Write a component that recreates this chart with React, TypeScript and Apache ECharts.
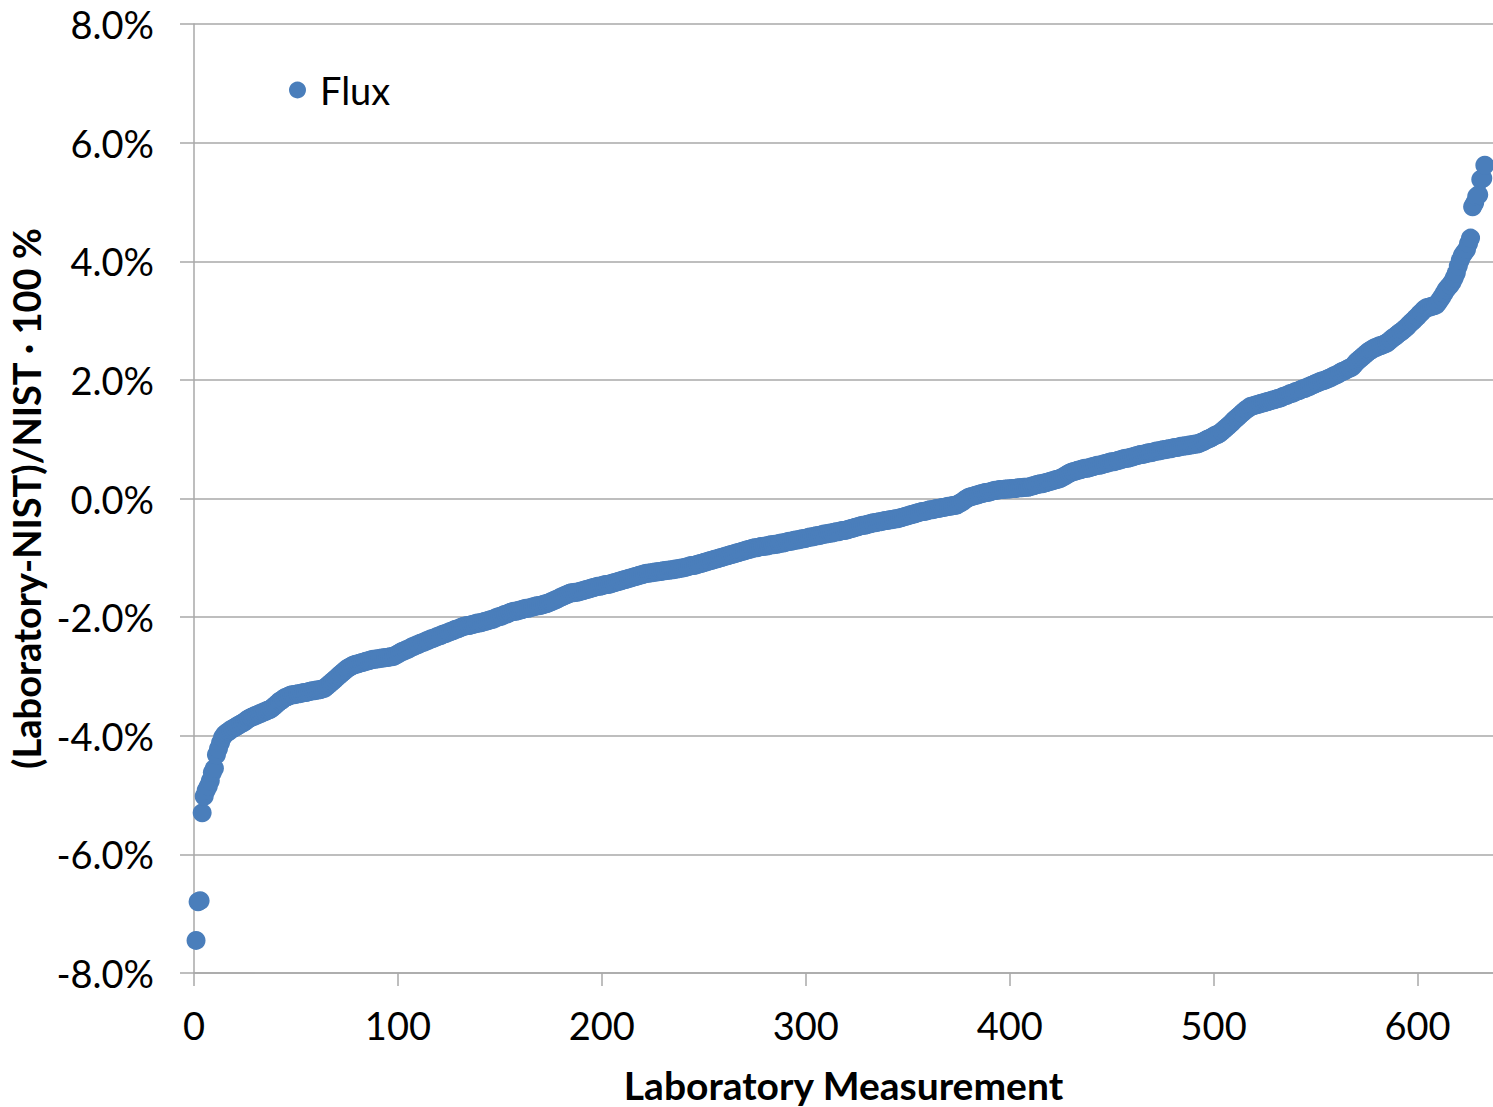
import React, { useEffect, useRef } from "react";
import * as echarts from "echarts";

// Sorted relative differences (%) for each laboratory measurement, index 1..633
const seg1 = [-7.45, -6.80, -6.78, -5.30, -5.02, -4.92, -4.85, -4.76, -4.62, -4.55, -4.32, -4.22, -4.12, -4.03, -3.98];
const seg2 = [-3.95, -3.93, -3.90, -3.88, -3.86, -3.84, -3.82, -3.80, -3.78, -3.76, -3.73,
  -3.71, -3.69, -3.68, -3.66, -3.65, -3.63, -3.62, -3.60,
  -3.59, -3.57, -3.56, -3.54, -3.51, -3.48, -3.45, -3.42,
  -3.40, -3.37, -3.35, -3.34, -3.32,
  -3.31, -3.31, -3.30, -3.29, -3.29, -3.28, -3.27, -3.27, -3.26, -3.25, -3.24,
  -3.24, -3.23, -3.23, -3.22, -3.21, -3.20];
const seg3 = [-3.17, -3.14, -3.11, -3.08, -3.05, -3.02,
  -2.99, -2.96, -2.93, -2.90, -2.87, -2.85, -2.83, -2.81,
  -2.80, -2.79, -2.78, -2.77, -2.76, -2.75, -2.74, -2.73, -2.72, -2.71,
  -2.71, -2.70, -2.70, -2.69, -2.69, -2.68, -2.68, -2.67, -2.67, -2.66,
  -2.64, -2.62, -2.60, -2.58, -2.57, -2.55, -2.54, -2.52, -2.50,
  -2.49, -2.47, -2.46, -2.44, -2.43, -2.42, -2.40, -2.39, -2.37, -2.36];
const seg4 = [-2.35, -2.33, -2.32, -2.31, -2.29, -2.28, -2.27, -2.25, -2.24, -2.23, -2.21, -2.20, -2.19, -2.17, -2.16,
  -2.15, -2.14, -2.14, -2.13, -2.12, -2.11, -2.10, -2.10, -2.09, -2.08, -2.07, -2.06, -2.05,
  -2.04, -2.03, -2.01, -2.00, -1.99, -1.98, -1.96, -1.95, -1.94, -1.92, -1.91,
  -1.90, -1.90, -1.89, -1.88, -1.87, -1.86, -1.85, -1.85, -1.84, -1.83, -1.82, -1.81, -1.81, -1.80, -1.79, -1.78, -1.77,
  -1.76, -1.74, -1.73, -1.71, -1.70, -1.68, -1.66, -1.65, -1.63, -1.62, -1.60,
  -1.59, -1.59, -1.58, -1.58, -1.57,
  -1.56, -1.55, -1.54, -1.53, -1.52, -1.51, -1.50, -1.49,
  -1.48, -1.48, -1.47, -1.46, -1.45, -1.45, -1.44, -1.43];
const seg5 = [-1.42, -1.41, -1.40, -1.39, -1.38, -1.37, -1.36, -1.35, -1.34, -1.33, -1.32, -1.31, -1.30, -1.29, -1.28, -1.27, -1.26,
  -1.26, -1.25, -1.25, -1.24, -1.24, -1.23, -1.23, -1.22, -1.22, -1.21, -1.21, -1.20, -1.20, -1.19, -1.19, -1.18,
  -1.17, -1.17, -1.16, -1.15, -1.14, -1.13, -1.13, -1.12, -1.11, -1.10, -1.09, -1.08, -1.07,
  -1.06, -1.05, -1.04, -1.03, -1.02, -1.01, -1.00, -0.99, -0.98, -0.97, -0.96, -0.95,
  -0.94, -0.93, -0.92, -0.91, -0.90, -0.89, -0.88, -0.87, -0.86, -0.85, -0.84,
  -0.83, -0.83, -0.82, -0.81, -0.81, -0.80, -0.80, -0.79, -0.78, -0.78, -0.77, -0.77, -0.76];
const seg6 = [-0.75, -0.75, -0.74, -0.73, -0.72, -0.72, -0.71, -0.70, -0.70, -0.69, -0.68, -0.68, -0.67, -0.66, -0.65, -0.65, -0.64,
  -0.63, -0.63, -0.62, -0.61, -0.60, -0.60, -0.59, -0.58, -0.58, -0.57, -0.56, -0.56, -0.55, -0.54, -0.54, -0.53,
  -0.52, -0.51, -0.50, -0.49, -0.48, -0.47, -0.46, -0.45, -0.45, -0.44, -0.43, -0.42, -0.41, -0.41, -0.40, -0.39,
  -0.39, -0.38, -0.37, -0.37, -0.36, -0.36, -0.35, -0.34, -0.34, -0.33,
  -0.32, -0.31, -0.30, -0.29, -0.28, -0.27, -0.26, -0.25, -0.24, -0.23, -0.22, -0.22, -0.21, -0.20, -0.19,
  -0.19, -0.18, -0.17, -0.17, -0.16, -0.15, -0.15, -0.14, -0.13, -0.13, -0.12, -0.12, -0.11,
  -0.09, -0.07, -0.05, -0.02, 0.00];
const seg7 = [0.02, 0.03, 0.04, 0.05, 0.06, 0.07, 0.08, 0.09, 0.10, 0.10, 0.11, 0.12, 0.13, 0.14,
  0.14, 0.15, 0.15, 0.15, 0.16, 0.16, 0.16, 0.17, 0.17, 0.17, 0.18, 0.18, 0.18, 0.19, 0.19, 0.19, 0.20,
  0.21, 0.22, 0.23, 0.24, 0.25, 0.25, 0.26, 0.27, 0.28, 0.29, 0.30, 0.31, 0.32, 0.33, 0.34,
  0.36, 0.38, 0.40, 0.42, 0.44, 0.45,
  0.46, 0.47, 0.48, 0.49, 0.50, 0.51, 0.51, 0.52, 0.53, 0.54, 0.55, 0.56, 0.56, 0.57, 0.58, 0.59];
const seg8 = [0.60, 0.61, 0.62, 0.62, 0.63, 0.64, 0.65, 0.66, 0.67, 0.68, 0.68, 0.69, 0.70, 0.71, 0.72, 0.73, 0.74, 0.74, 0.75, 0.76,
  0.77, 0.77, 0.78, 0.79, 0.80, 0.80, 0.81, 0.82, 0.82, 0.83, 0.84, 0.84, 0.85, 0.86, 0.86, 0.87,
  0.88, 0.88, 0.89, 0.89, 0.90, 0.90, 0.91, 0.92, 0.92, 0.93,
  0.95, 0.96, 0.98, 1.00, 1.01, 1.03, 1.05, 1.07, 1.08, 1.10,
  1.13, 1.16, 1.19, 1.22, 1.25, 1.28, 1.32,
  1.35, 1.38, 1.41, 1.44, 1.47, 1.50, 1.52, 1.55];
const seg9 = [1.56, 1.57, 1.58, 1.59, 1.60, 1.61, 1.62, 1.63, 1.64, 1.65, 1.66, 1.67, 1.68, 1.69,
  1.70, 1.72, 1.73, 1.74, 1.76, 1.77, 1.78, 1.80, 1.81, 1.82, 1.84, 1.85, 1.86,
  1.88, 1.89, 1.91, 1.92, 1.94, 1.95, 1.97, 1.98, 1.99, 2.00, 2.02, 2.03,
  2.05, 2.07, 2.08, 2.10, 2.12, 2.14, 2.15, 2.17, 2.19, 2.20, 2.22,
  2.26, 2.30, 2.33, 2.36, 2.39, 2.42, 2.45,
  2.48, 2.50, 2.52, 2.54, 2.55, 2.57, 2.58, 2.59, 2.61, 2.62,
  2.65, 2.68, 2.71, 2.73, 2.76, 2.79, 2.81, 2.84, 2.87];
const seg10 = [2.90, 2.94, 2.97, 3.00, 3.04, 3.07, 3.11, 3.14, 3.18, 3.21,
  3.22, 3.23, 3.24, 3.25, 3.26,
  3.30, 3.35, 3.40, 3.46, 3.52,
  3.56, 3.60, 3.65, 3.72, 3.80,
  3.92, 4.02, 4.10, 4.15, 4.20, 4.30, 4.39,
  4.92, 4.98, 5.09, 5.12, 5.38, 5.40, 5.62];

const fluxValues: number[] = [...seg1, ...seg2, ...seg3, ...seg4, ...seg5, ...seg6, ...seg7, ...seg8, ...seg9, ...seg10];

const seriesName = "Flux";
const xAxisTitle = "Laboratory Measurement";
const yAxisTitle = "(Laboratory-NIST)/NIST · 100 %";

export default function App() {
  const ref = useRef<HTMLDivElement>(null);
  useEffect(() => {
    if (!ref.current) return;
    const chart = echarts.init(ref.current, null, { renderer: "svg" });
    const font = "Lato, 'Open Sans', sans-serif";
    const gridColor = "#A8A8A8";
    chart.setOption({
      animation: false,
      backgroundColor: "#ffffff",
      textStyle: { fontFamily: font },
      grid: { left: 194, right: 0, top: 24, bottom: 134, containLabel: false, outerBoundsMode: "none" },
      legend: {
        data: [{ name: seriesName, icon: "circle" }],
        left: 284,
        top: 66,
        itemWidth: 17,
        itemHeight: 17,
        textStyle: { fontSize: 38, color: "#000", fontFamily: font, padding: [0, 0, 0, 9] },
      },
      xAxis: {
        type: "value",
        min: 0,
        max: 637,
        interval: 100,
        name: xAxisTitle,
        nameLocation: "middle",
        nameGap: 92,
        nameTextStyle: { fontSize: 39, fontWeight: "bold", color: "#000", fontFamily: font },
        axisLine: { show: true, onZero: false, lineStyle: { color: gridColor, width: 1.5 } },
        axisTick: { show: true, length: 13, lineStyle: { color: gridColor, width: 1.5 } },
        axisLabel: { fontSize: 38, color: "#000", margin: 33, showMaxLabel: false, fontFamily: font },
        splitLine: { show: false },
      },
      yAxis: {
        type: "value",
        min: -8,
        max: 8,
        interval: 2,
        name: yAxisTitle,
        nameLocation: "middle",
        nameGap: 146,
        nameRotate: 90,
        nameTextStyle: { fontSize: 38, fontWeight: "bold", color: "#000", fontFamily: font },
        axisLine: { show: true, lineStyle: { color: gridColor, width: 1.5 } },
        axisTick: { show: true, length: 14, lineStyle: { color: gridColor, width: 1.5 } },
        axisLabel: {
          fontSize: 38,
          color: "#000",
          margin: 40,
          fontFamily: font,
          formatter: (v: number) => v.toFixed(1) + "%",
        },
        splitLine: { show: true, lineStyle: { color: gridColor, width: 1.5 } },
      },
      series: [
        {
          name: seriesName,
          type: "scatter",
          symbol: "circle",
          symbolSize: 19,
          clip: false,
          itemStyle: { color: "#4A7EBB", opacity: 1 },
          data: fluxValues.map((v, i) => [i + 1, v]),
        },
      ],
    });
    return () => chart.dispose();
  }, []);
  return (
    <div
      ref={ref}
      style={{ position: "absolute", left: 0, top: 0, width: 1493, height: 1107 }}
    />
  );
}
